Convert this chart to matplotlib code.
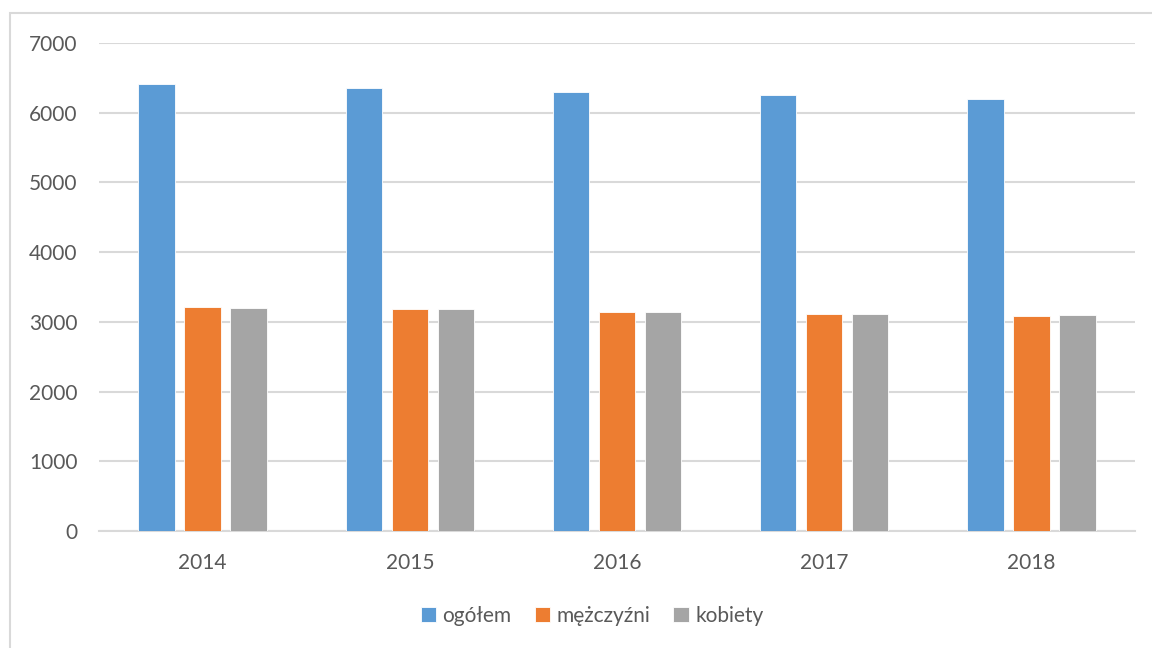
import matplotlib.pyplot as plt
import matplotlib.patches as patches
import numpy as np

# values
years = ['2014', '2015', '2016', '2017', '2018']
ogolem = [6413, 6356, 6303, 6251, 6194]
mezczyzni = [3209, 3181, 3138, 3118, 3085]
kobiety = [3195, 3181, 3138, 3118, 3103]
series_names = ['ogółem', 'mężczyźni', 'kobiety']
colors = ['#5b9bd5', '#ed7d31', '#a5a5a5']

plt.rcParams['font.family'] = ['Lato', 'DejaVu Sans']

fig = plt.figure(figsize=(11.52, 6.48), dpi=100)
ax = fig.add_axes([99 / 1152, 117 / 648, (1135 - 99) / 1152, (531 - 43) / 648])

# outer chart frame, cut off at the right and bottom like in the source
fig.patches.append(patches.Rectangle((10 / 1152, -0.1), 1.2, (648 - 13) / 648 + 0.1,
                                     transform=fig.transFigure, fill=False,
                                     edgecolor='#d9d9d9', linewidth=1.5))

x = np.arange(len(years))
width = 0.175
step = 0.222
for i, (vals, name) in enumerate(zip([ogolem, mezczyzni, kobiety], series_names)):
    ax.bar(x + (i - 1) * step, vals, width, color=colors[i], label=name,
           edgecolor='white', linewidth=0.6, zorder=3)

ax.set_xlim(-0.5, len(years) - 0.5)
ax.set_ylim(0, 7000)
ax.set_yticks(range(0, 7001, 1000))
ax.set_xticks(x)
ax.set_xticklabels(years)
ax.grid(axis='y', color='#d9d9d9', linewidth=1.5, zorder=0)
for s in ['top', 'right', 'left']:
    ax.spines[s].set_visible(False)
ax.spines['bottom'].set_color('#d9d9d9')
ax.spines['bottom'].set_linewidth(1.5)
ax.tick_params(axis='both', length=0, labelsize=15, colors='#595959')
ax.tick_params(axis='x', pad=16)
ax.tick_params(axis='y', pad=15.5)

leg = fig.legend(loc='center', bbox_to_anchor=(592 / 1152, 1 - 616 / 648), ncol=3,
                 frameon=False, fontsize=15, handlelength=0.75, handleheight=0.75,
                 handletextpad=0.3, columnspacing=1.1)
for t in leg.get_texts():
    t.set_color('#595959')

fig.savefig('out.png', dpi=100)
